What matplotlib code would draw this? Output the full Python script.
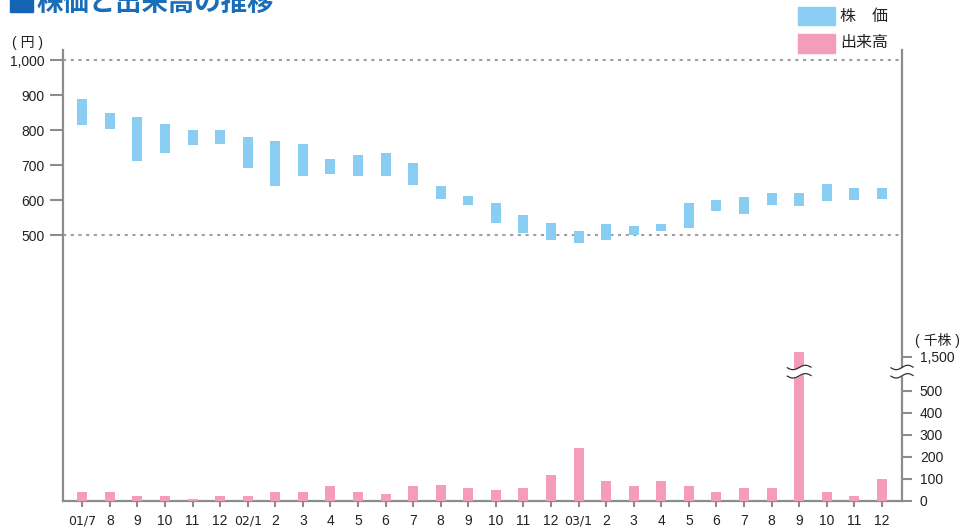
import numpy as np
import matplotlib.pyplot as plt
from matplotlib.patches import Rectangle

plt.rcParams['font.family'] = ['Liberation Sans', 'Noto Sans CJK JP']

# monthly data, 2001/7 - 2003/12
months = ['01/7', '8', '9', '10', '11', '12',
          '02/1', '2', '3', '4', '5', '6', '7', '8', '9', '10', '11', '12',
          '03/1', '2', '3', '4', '5', '6', '7', '8', '9', '10', '11', '12']
high = [888, 848, 837, 817, 800, 800, 780, 768, 760, 717, 728, 734, 705, 640, 611,
        591, 557, 534, 511, 531, 526, 531, 591, 600, 608, 620, 620, 645, 634, 634]
low = [815, 803, 711, 734, 757, 760, 691, 640, 668, 674, 668, 668, 643, 603, 586,
       534, 506, 486, 477, 486, 500, 511, 520, 568, 560, 586, 583, 597, 600, 603]
volume = [39, 39, 21, 25, 11, 21, 25, 43, 39, 70, 43, 34, 66, 75, 61,
          48, 61, 120, 243, 89, 66, 89, 66, 43, 57, 61, 1520, 39, 25, 102]

price_ticks = [500, 600, 700, 800, 900, 1000]
vol_ticks = [0, 100, 200, 300, 400, 500, 1500]

BLUE = '#89cdf3'
PINK = '#f49dba'
AXC = '#8c8c8c'
TXT = '#222222'

W, H = 961, 529
fig = plt.figure(figsize=(W / 100, H / 100), dpi=100)

x0, x1, ytop, ybot = 63, 902, 50, 501
ax = fig.add_axes([x0 / W, 1 - ybot / H, (x1 - x0) / W, (ybot - ytop) / H])
ax2 = ax.twinx()

x = np.arange(len(months))
ax.set_xlim(-0.7, 29.73)


def vol_disp(v):
    # volume axis is broken between 500 and 1500
    v = np.asarray(v, dtype=float)
    return np.where(v <= 500, v, v - 844)


# price range bars
hi = np.array(high)
lo = np.array(low)
ax.bar(x, hi - lo, bottom=lo, width=0.36, color=BLUE, zorder=3)
ax.set_ylim(-260, 1028.6)
for p in (500, 1000):
    ax.axhline(p, color='#a0a0a0', lw=1.5, ls=(0, (1.5, 2.2)), zorder=1)

# volume bars
ax2.bar(x, vol_disp(volume), width=0.36, color=PINK, zorder=3)
ax2.set_ylim(0, 2050)

# spines
for s in ['top', 'right']:
    ax.spines[s].set_visible(False)
for s in ['top', 'left', 'bottom']:
    ax2.spines[s].set_visible(False)
for sp in [ax.spines['left'], ax.spines['bottom'], ax2.spines['right']]:
    sp.set_color(AXC)
    sp.set_linewidth(1.6)

ax.set_yticks(price_ticks)
ax.set_yticklabels([f'{p:,}' for p in price_ticks])
ax.tick_params(axis='y', direction='out', length=9.4, width=1.5, pad=3.6,
               color=AXC, labelcolor=TXT, labelsize=10)
ax.set_xticks(x)
ax.set_xticklabels(months)
ax.tick_params(axis='x', direction='out', length=4.5, width=1.5, pad=5,
               color=AXC, labelcolor=TXT, labelsize=10)
for lab in ax.get_xticklabels():
    if '/' in lab.get_text():
        lab.set_fontfamily(['Liberation Sans Narrow', 'DejaVu Sans'])
        lab.set_fontsize(9)

ax2.set_yticks(vol_disp(vol_ticks))
ax2.set_yticklabels([f'{v:,}' for v in vol_ticks])
ax2.tick_params(axis='y', direction='out', length=7.2, width=1.5, pad=5.6,
                color=AXC, labelcolor=TXT, labelsize=10)


def break_mark(axis, xc, yc, half_w, amp, gap):
    # white gap bounded by two waves
    xs = np.linspace(xc - half_w, xc + half_w, 60)
    wave = amp * np.sin(2 * np.pi * (xs - xc) / (2 * half_w))
    axis.fill_between(xs, yc - gap / 2 + wave, yc + gap / 2 + wave,
                      color='white', zorder=6, clip_on=False, lw=0)
    for off in (-gap / 2, gap / 2):
        axis.plot(xs, yc + off + wave, color='#333333', lw=0.9,
                  zorder=7, clip_on=False, solid_capstyle='butt')


break_mark(ax2, 26, 588, 0.45, 10, 38)
break_mark(ax2, 29.73, 588, 0.42, 10, 38)

# units
fig.text(12 / W, 1 - 43 / H, '( 円 )', fontsize=10, color=TXT, va='center')
fig.text(915 / W, 1 - 340 / H, '( 千株 )', fontsize=10, color=TXT, va='center')

# legend
fig.patches.append(Rectangle((798 / W, 1 - 25 / H), 37 / W, 18 / H,
                             transform=fig.transFigure, color=BLUE))
fig.patches.append(Rectangle((798 / W, 1 - 53 / H), 37 / W, 19 / H,
                             transform=fig.transFigure, color=PINK))
fig.text(840 / W, 1 - 16 / H, '株\u3000価', fontsize=11.5, color=TXT, va='center',
         family=['Noto Sans CJK JP'])
fig.text(840 / W, 1 - 43 / H, '出来高', fontsize=11.5, color=TXT, va='center',
         family=['Noto Sans CJK JP'])

# title
fig.patches.append(Rectangle((10 / W, 1 - 12 / H), 23 / W, 14 / H,
                             transform=fig.transFigure, color='#1565b5'))
fig.text(36 / W, 1 - 10.5 / H, '株価と出来高の推移', fontsize=19, color='#1a6db8',
         va='baseline', family=['Noto Sans CJK JP'], weight='bold')

fig.savefig('out.png', dpi=100)
